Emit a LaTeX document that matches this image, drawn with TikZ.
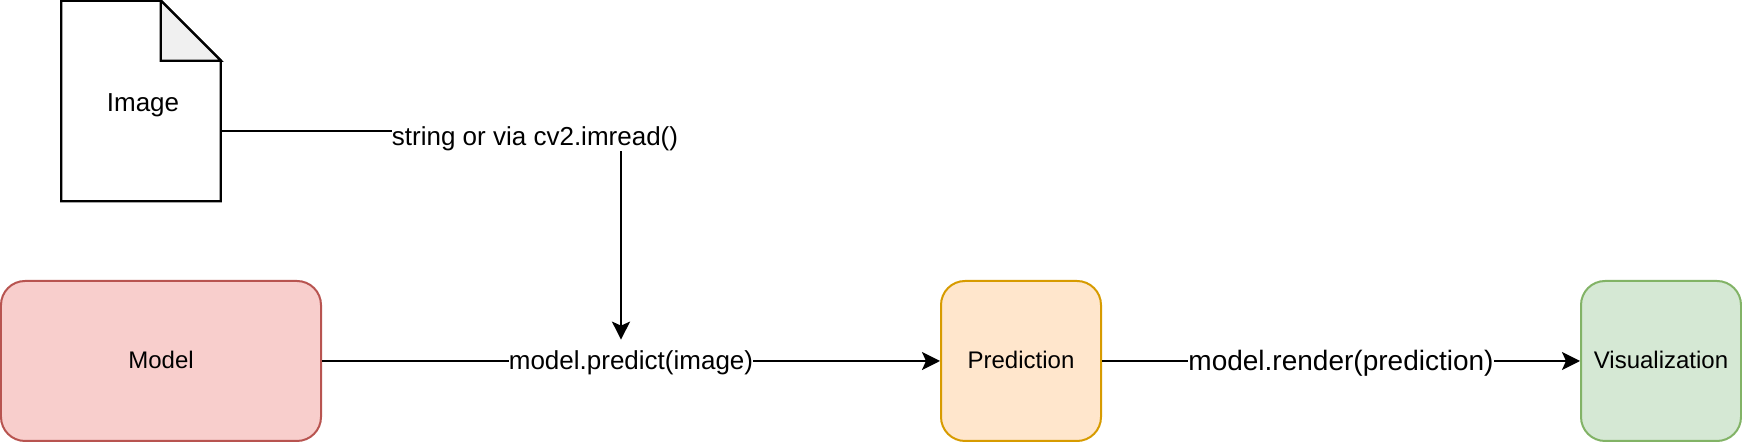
\documentclass[tikz,border=0pt]{standalone}
\usepackage{fontspec}
\setmainfont{Liberation Sans}
\usepackage{xcolor}
\usetikzlibrary{positioning, arrows.meta, calc}
\definecolor{modelfill}{HTML}{F8CECC}
\definecolor{modeldraw}{HTML}{B85450}
\definecolor{predfill}{HTML}{FFE6CC}
\definecolor{preddraw}{HTML}{D79B00}
\definecolor{visfill}{HTML}{D5E8D4}
\definecolor{visdraw}{HTML}{82B366}
\definecolor{foldgray}{HTML}{F0F0F0}
\begin{document}
\begin{tikzpicture}[
    stage/.style={draw, rounded corners=0.48cm, minimum width=3.2cm, minimum height=3.2cm,
                  line width=0.04cm, inner sep=0pt, text depth=0.04cm,
                  font=\fontsize{13.66}{16}\selectfont},
    doc/.style={minimum width=3.18cm, minimum height=4.0cm, inner sep=0pt,
                text height=0.51cm, font=\fontsize{14.8}{18}\selectfont},
    docline/.style={line width=0.045cm, line join=miter},
    arr/.style={-{Stealth[length=0.36cm, width=0.36cm, inset=0.08cm]}, line width=0.045cm},
    edgelbl/.style={fill=white, inner sep=0pt, font=\fontsize{14.8}{18}\selectfont},
]
\useasboundingbox (0, 0) rectangle (34.84, 8.84);

% Image file
\node[doc] (image) at (2.82, 6.82) {\hspace{0.08cm}Image};
\draw[docline] (image.north west) -- ($(image.north east)+(-1.2, 0)$)
  -- ($(image.north east)+(0, -1.2)$) |- (image.south west) -- cycle;
\draw[docline, fill=foldgray] ($(image.north east)+(-1.2, 0)$)
  |- ($(image.north east)+(0, -1.2)$) -- cycle;

% Stages
\node[stage, minimum width=6.4cm, fill=modelfill, draw=modeldraw] (model) at (3.22, 1.62) {Model};
\node[stage, fill=predfill, draw=preddraw] (prediction) at (20.42, 1.62) {Prediction};
\node[stage, fill=visfill, draw=visdraw] (visualization) at (33.22, 1.62) {Visualization};

% Edge labels sit on a fixed height so the arrow stops above the text
\coordinate (predictpos) at (12.62, 1.62);
\node[edgelbl, minimum height=0.84cm, fill=none] (predict) at (predictpos) {\phantom{model.predict(image)}};

% Arrows
\draw[arr] ($(image.east)+(0, -0.6)$) -| ($(predict.north)+(-0.2, 0)$);
\draw[arr] (model.east) -- (prediction.west);
\draw[arr] (prediction.east) -- (visualization.west);

% Labels on top of the arrows
\node[edgelbl] (imread) at (10.7, 6.07) {string or via cv2.imread()};
\node[edgelbl] (predicttext) at (12.62, 1.58) {model.predict(image)};
\node[edgelbl, font=\fontsize{15.94}{19}\selectfont] (render) at (26.82, 1.58) {model.render(prediction)};
\end{tikzpicture}
\end{document}
